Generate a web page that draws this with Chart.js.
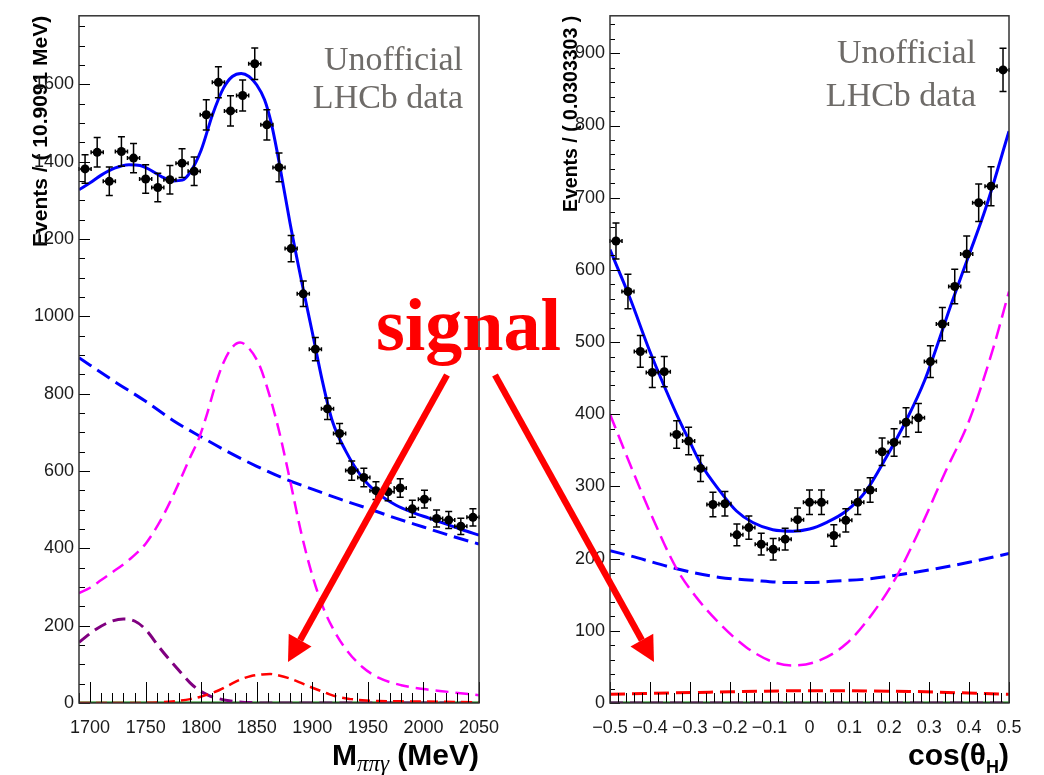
<!DOCTYPE html>
<html>
<head>
<meta charset="utf-8">
<script src="https://cdn.jsdelivr.net/npm/chart.js@4.4.0/dist/chart.umd.min.js"></script>
<style>
  body { margin: 0; background: #fff; }
  #wrap { position: relative; width: 1044px; height: 775px; }
  canvas { position: absolute; top: 0; }
  #grafico_massa { left: 0; }
  #grafico_cos { left: 522px; }
  #anotacao { left: 0; pointer-events: none; }
</style>
</head>
<body>
<div id="wrap">
  <canvas id="grafico_massa" width="522" height="775"></canvas>
  <canvas id="grafico_cos" width="522" height="775"></canvas>
  <canvas id="anotacao" width="1044" height="775"></canvas>
</div>
<script>
// ---- painel da esquerda: M(pi pi gamma)
const massaCentros = [1695.45, 1706.36, 1717.27, 1728.18, 1739.09, 1750.00, 1760.91, 1771.82, 1782.73, 1793.64,
  1804.55, 1815.45, 1826.36, 1837.27, 1848.18, 1859.09, 1870.00, 1880.91, 1891.82, 1902.73, 1913.64,
  1924.55, 1935.45, 1946.36, 1957.27, 1968.18, 1979.09, 1990.00, 2000.91, 2011.82, 2022.73, 2033.64, 2044.55];
const massaEventos = [1381, 1424, 1349, 1426, 1409, 1355, 1333, 1353, 1396, 1375, 1521, 1605, 1531, 1571, 1653,
  1495, 1385, 1175, 1058, 915, 761, 697, 601, 583, 549, 546, 556, 502, 527, 477, 473, 457, 480];
const massaErros = [37, 38, 37, 38, 38, 37, 37, 37, 37, 37, 39, 40, 39, 40, 41, 39, 37, 34, 33, 30, 28, 26, 25,
  24, 23, 23, 24, 22, 23, 22, 22, 21, 22];
const massaTicksX = [1700, 1750, 1800, 1850, 1900, 1950, 2000, 2050];
const massaTicksY = [0, 200, 400, 600, 800, 1000, 1200, 1400, 1600];

const massaAjusteX = [1690, 1700, 1710, 1722, 1735, 1745, 1755, 1765, 1775, 1783, 1790, 1800, 1810, 1820, 1828,
  1836, 1843, 1850, 1857, 1863, 1870, 1880, 1890, 1900, 1909, 1918, 1930, 1945, 1960, 1975, 1990, 2005, 2020, 2035, 2050];
const massaAjusteY = [1327, 1345, 1365, 1383, 1392, 1390, 1377, 1360, 1350, 1352, 1372, 1430, 1520, 1590, 1620,
  1628, 1620, 1598, 1560, 1500, 1400, 1240, 1095, 958, 833, 729, 652, 583, 540, 512, 493, 478, 463, 448, 434];

const massaFundoX = [1690, 1720, 1750, 1775, 1800, 1825, 1850, 1875, 1900, 1925, 1950, 1975, 2000, 2025, 2050];
const massaFundoY = [893, 835, 780, 730, 688, 648, 612, 580, 553, 527, 503, 478, 455, 432, 411];

const massaMagentaX = [1690, 1700, 1710, 1720, 1735, 1750, 1762, 1772, 1780, 1790, 1798, 1805, 1812, 1820, 1828,
  1835, 1842, 1852, 1861, 1870, 1880, 1890, 1900, 1910, 1920, 1930, 1945, 1960, 1980, 2000, 2025, 2050];
const massaMagentaY = [284, 298, 318, 338, 370, 412, 465, 520, 570, 635, 685, 745, 815, 880, 920,
  932, 920, 876, 800, 704, 575, 440, 330, 245, 185, 140, 93, 65, 46, 36, 28, 20];

const massaRoxoX = [1690, 1705, 1718, 1730, 1740, 1750, 1762, 1772, 1780, 1790, 1798, 1808, 1816, 1825, 1834, 1845, 1860, 2050];
const massaRoxoY = [157, 190, 210, 217, 212, 190, 145, 110, 84, 52, 33, 18, 11, 6, 3, 1, 0, 0];

const massaVermelhoX = [1690, 1740, 1765, 1780, 1790, 1798, 1808, 1816, 1825, 1834, 1845, 1855, 1862, 1870, 1880,
  1888, 1897, 1906, 1915, 1924, 1935, 1945, 1960, 1990, 2050];
const massaVermelhoY = [0, 0, 2, 6, 10, 15, 24, 33, 46, 59, 70, 74, 75, 71, 63, 54, 43, 33, 23, 15, 10, 7, 5, 4, 2];

const massaVerdeX = [1690, 2050];
const massaVerdeY = [0, 0];

// ---- painel da direita: cos(theta_H)
const cosCentros = [-0.485, -0.455, -0.424, -0.394, -0.364, -0.333, -0.303, -0.273, -0.242, -0.212, -0.182,
  -0.152, -0.121, -0.091, -0.061, -0.030, 0.000, 0.030, 0.061, 0.091, 0.121, 0.152, 0.182, 0.212, 0.242,
  0.273, 0.303, 0.333, 0.364, 0.394, 0.424, 0.455, 0.485];
const cosEventos = [640, 570, 487, 458, 459, 372, 363, 325, 275, 276, 233, 243, 220, 213, 227, 254, 278, 278,
  232, 253, 278, 295, 348, 361, 389, 395, 473, 525, 577, 622, 693, 716, 877];
const cosErros = [25, 24, 22, 21, 21, 19, 19, 18, 17, 17, 15, 16, 15, 15, 15, 16, 17, 17, 15, 16, 17, 17, 19,
  19, 20, 20, 22, 23, 24, 25, 26, 27, 30];
const cosTicksX = [-0.5, -0.4, -0.3, -0.2, -0.1, 0, 0.1, 0.2, 0.3, 0.4, 0.5];
const cosTicksY = [0, 100, 200, 300, 400, 500, 600, 700, 800, 900];

const cosAjusteX = [-0.5, -0.45, -0.4, -0.333, -0.3, -0.271, -0.225, -0.183, -0.142, -0.092, -0.042, 0, 0.042,
  0.092, 0.142, 0.192, 0.242, 0.288, 0.358, 0.4, 0.442, 0.5];
const cosAjusteY = [628, 561, 487, 400, 362, 330, 294, 266, 250, 240, 238, 241, 250, 266, 294, 340, 391, 446,
  557, 621, 686, 792];

const cosFundoX = [-0.5, -0.45, -0.333, -0.225, -0.142, -0.058, 0, 0.067, 0.15, 0.217, 0.317, 0.4, 0.5];
const cosFundoY = [211, 204, 186, 174, 170, 167, 167, 169, 172, 177, 186, 195, 207];

const cosMagentaX = [-0.5, -0.45, -0.4, -0.333, -0.283, -0.225, -0.158, -0.092, -0.042, 0.025, 0.092, 0.158,
  0.217, 0.275, 0.342, 0.4, 0.458, 0.5];
const cosMagentaY = [400, 331, 265, 186, 146, 110, 77, 57, 52, 59, 82, 124, 174, 239, 322, 391, 487, 570];

const cosVermelhoX = [-0.5, -0.25, 0, 0.25, 0.5];
const cosVermelhoY = [12, 15, 17, 16, 12];

const cosZeroX = [-0.5, 0.5];
const cosZeroY = [0, 0];

// ---- helpers
const pares = (xs, ys) => xs.map((x, i) => ({x: x, y: ys[i]}));

function curva(xs, ys, cor, largura, tracos) {
  return {
    data: pares(xs, ys),
    showLine: true,
    borderColor: cor,
    borderWidth: largura,
    borderDash: tracos || [],
    pointRadius: 0,
    cubicInterpolationMode: 'monotone',
    fill: false
  };
}

function pontos(xs, ys, errs) {
  return {
    data: xs.map((x, i) => ({x: x, y: ys[i], err: errs[i]})),
    showLine: false,
    pointRadius: 4.5,
    pointBackgroundColor: '#000',
    pointBorderWidth: 0
  };
}

// barras de erro, moldura, ticks para dentro (estilo ROOT), textos
const estiloRoot = {
  id: 'estiloRoot',
  beforeDatasetDraw(chart, args, opts) {
    if (args.index !== 0) return;
    const ctx = chart.ctx, xs = chart.scales.x, ys = chart.scales.y;
    ctx.save();
    ctx.strokeStyle = '#000';
    ctx.lineWidth = 1.5;
    ctx.beginPath();
    chart.data.datasets[0].data.forEach(p => {
      const px = xs.getPixelForValue(p.x), py = ys.getPixelForValue(p.y);
      const topo = ys.getPixelForValue(p.y + p.err), base = ys.getPixelForValue(p.y - p.err);
      const esq = xs.getPixelForValue(p.x - opts.meiaLargura), dir = xs.getPixelForValue(p.x + opts.meiaLargura);
      ctx.moveTo(px, topo); ctx.lineTo(px, base);
      ctx.moveTo(px - 3.5, topo); ctx.lineTo(px + 3.5, topo);
      ctx.moveTo(px - 3.5, base); ctx.lineTo(px + 3.5, base);
      ctx.moveTo(esq, py); ctx.lineTo(dir, py);
      ctx.moveTo(esq, py - 2); ctx.lineTo(esq, py + 2);
      ctx.moveTo(dir, py - 2); ctx.lineTo(dir, py + 2);
    });
    ctx.stroke();
    ctx.restore();
  },
  afterDraw(chart, args, opts) {
    const ctx = chart.ctx, a = chart.chartArea, xs = chart.scales.x, ys = chart.scales.y;
    ctx.save();
    // ticks
    ctx.strokeStyle = '#000';
    ctx.lineWidth = 1;
    ctx.beginPath();
    const marcar = (escala, passo, maior, menor, vertical) => {
      const majors = escala.ticks.map(t => t.value);
      const k0 = Math.ceil(escala.min / passo - 1e-6), k1 = Math.floor(escala.max / passo + 1e-6);
      for (let k = k0; k <= k1; k++) {
        const v = k * passo;
        const eMaior = majors.some(m => Math.abs(m - v) < passo / 10);
        const len = eMaior ? maior : menor;
        const p = Math.round(escala.getPixelForValue(v)) + 0.5;
        if (vertical) { ctx.moveTo(p, a.bottom); ctx.lineTo(p, a.bottom - len); }
        else { ctx.moveTo(a.left, p); ctx.lineTo(a.left + len, p); }
      }
    };
    marcar(xs, opts.passoX, opts.tickX[0], opts.tickX[1], true);
    marcar(ys, opts.passoY, opts.tickY[0], opts.tickY[1], false);
    ctx.stroke();
    // moldura
    ctx.strokeStyle = '#333';
    ctx.lineWidth = 1.5;
    ctx.strokeRect(a.left, a.top, a.right - a.left, a.bottom - a.top);
    // titulo do eixo x com subscrito
    let total = 0;
    opts.tituloX.forEach(s => { ctx.font = s.fonte; total += ctx.measureText(s.t).width; });
    let x = a.right - total;
    ctx.fillStyle = '#000';
    ctx.textBaseline = 'alphabetic';
    ctx.textAlign = 'left';
    opts.tituloX.forEach(s => {
      ctx.font = s.fonte;
      ctx.fillText(s.t, x, opts.baseTituloX + (s.dy || 0));
      x += ctx.measureText(s.t).width;
    });
    // texto "Unofficial LHCb data"
    ctx.font = '34px "Liberation Serif"';
    ctx.fillStyle = '#6e6b68';
    ctx.textAlign = 'right';
    ctx.fillText('Unofficial', a.right - opts.marcaDir, opts.marcaY[0]);
    ctx.fillText('LHCb data', a.right - opts.marcaDir, opts.marcaY[1]);
    ctx.restore();
  }
};

function eixoY(max, marcas, titulo, tamTitulo, padTitulo, largura) {
  return {
    min: 0, max: max,
    grid: {display: false, drawTicks: false},
    border: {display: false},
    afterBuildTicks: s => { s.ticks = marcas.map(v => ({value: v})); },
    ticks: {padding: 5, color: '#1a1a1a',
      font: {family: '"Liberation Sans", Arial', size: 18}, callback: v => String(v)},
    title: {display: true, text: titulo, align: 'end', color: '#000',
      font: {family: '"Liberation Sans", Arial', size: tamTitulo, weight: 'bold', lineHeight: 1},
      padding: {top: padTitulo, bottom: 0}},
    afterFit: s => { s.width = largura; }
  };
}

function eixoX(min, max, marcas, fmt) {
  return {
    type: 'linear', min: min, max: max,
    grid: {display: false, drawTicks: false},
    border: {display: false},
    afterBuildTicks: s => { s.ticks = marcas.map(v => ({value: v})); },
    ticks: {padding: 14, maxRotation: 0, autoSkip: false,
      color: '#1a1a1a', font: {family: '"Liberation Sans", Arial', size: 18}, callback: fmt},
    afterFit: s => { s.height = 72; }
  };
}

const comuns = {
  responsive: false,
  animation: false,
  plugins: {legend: {display: false}, tooltip: {enabled: false}}
};

new Chart(document.getElementById('grafico_massa'), {
  type: 'scatter',
  data: {
    datasets: [
      pontos(massaCentros, massaEventos, massaErros),
      curva(massaAjusteX, massaAjusteY, '#0000ff', 3),
      curva(massaVermelhoX, massaVermelhoY, '#ff0000', 2.5, [11, 6]),
      curva(massaRoxoX, massaRoxoY, '#800080', 3, [13, 7]),
      curva(massaMagentaX, massaMagentaY, '#ff00ff', 2.5, [13, 7]),
      curva(massaFundoX, massaFundoY, '#0000ff', 3, [15, 7]),
      curva(massaVerdeX, massaVerdeY, '#008000', 3)
    ]
  },
  options: {
    ...comuns,
    layout: {padding: {top: 14, right: 43, bottom: 0, left: 0}},
    scales: {
      x: eixoX(1690, 2050, massaTicksX, v => String(v)),
      y: eixoY(1777, massaTicksY, 'Events / ( 10.9091 MeV)', 21, 31, 79)
    },
    plugins: {
      ...comuns.plugins,
      estiloRoot: {
        meiaLargura: 5.4545, passoX: 10, passoY: 50, tickX: [21, 10], tickY: [11, 6],
        tituloX: [
          {t: 'M', fonte: 'bold 30px "Liberation Sans"'},
          {t: 'ππγ', fonte: 'italic 23px "Liberation Serif"', dy: 6},
          {t: ' (MeV)', fonte: 'bold 30px "Liberation Sans"'}
        ],
        baseTituloX: 765, marcaDir: 16, marcaY: [70, 108]
      }
    }
  },
  plugins: [estiloRoot]
});

new Chart(document.getElementById('grafico_cos'), {
  type: 'scatter',
  data: {
    datasets: [
      pontos(cosCentros, cosEventos, cosErros),
      curva(cosAjusteX, cosAjusteY, '#0000ff', 3),
      curva(cosVermelhoX, cosVermelhoY, '#ff0000', 3, [15, 7]),
      curva(cosZeroX, cosZeroY, '#800080', 3, [13, 7]),
      curva(cosMagentaX, cosMagentaY, '#ff00ff', 2.5, [15, 7]),
      curva(cosFundoX, cosFundoY, '#0000ff', 3, [15, 7]),
      curva(cosZeroX, cosZeroY, '#008000', 3)
    ]
  },
  options: {
    ...comuns,
    layout: {padding: {top: 14, right: 35, bottom: 0, left: 0}},
    scales: {
      x: eixoX(-0.5, 0.5, cosTicksX, v => (Math.abs(v) < 1e-9 ? '0' : (v < 0 ? '\u2212' + Math.abs(v).toFixed(1) : v.toFixed(1)))),
      y: eixoY(952, cosTicksY, 'Events / ( 0.0303303 )', 19.5, 40, 88)
    },
    plugins: {
      ...comuns.plugins,
      estiloRoot: {
        meiaLargura: 0.01515, passoX: 0.02, passoY: 20, tickX: [21, 10], tickY: [10, 5],
        tituloX: [
          {t: 'cos(θ', fonte: 'bold 30px "Liberation Sans"'},
          {t: 'H', fonte: 'bold 18px "Liberation Sans"', dy: 8},
          {t: ')', fonte: 'bold 30px "Liberation Sans"'}
        ],
        baseTituloX: 765, marcaDir: 33, marcaY: [63, 106]
      }
    }
  },
  plugins: [estiloRoot]
});

// ---- anotacao "signal" com as setas vermelhas
const ctxA = document.getElementById('anotacao').getContext('2d');

function seta(x0, y0, x1, y1) {
  const ang = Math.atan2(y1 - y0, x1 - x0), comp = 25, meia = 13;
  const bx = x1 - comp * Math.cos(ang), by = y1 - comp * Math.sin(ang);
  ctxA.strokeStyle = '#ff0000';
  ctxA.fillStyle = '#ff0000';
  ctxA.lineWidth = 6.5;
  ctxA.beginPath();
  ctxA.moveTo(x0, y0);
  ctxA.lineTo(bx, by);
  ctxA.stroke();
  ctxA.beginPath();
  ctxA.moveTo(x1, y1);
  ctxA.lineTo(bx + meia * Math.sin(ang), by - meia * Math.cos(ang));
  ctxA.lineTo(bx - meia * Math.sin(ang), by + meia * Math.cos(ang));
  ctxA.closePath();
  ctxA.fill();
}

seta(447, 375, 288, 662);
seta(495, 375, 654, 662);

ctxA.font = 'bold 74px "Liberation Serif"';
ctxA.fillStyle = '#ff0000';
ctxA.textBaseline = 'alphabetic';
ctxA.fillText('signal', 376, 350);
</script>
</body>
</html>
